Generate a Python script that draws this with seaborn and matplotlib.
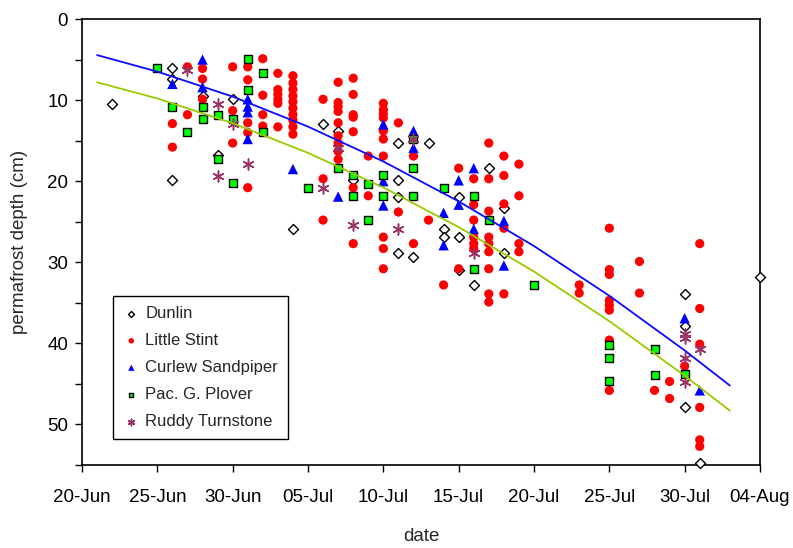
import matplotlib
matplotlib.use("Agg")
import matplotlib.pyplot as plt
import pandas as pd
import seaborn as sns
from matplotlib.ticker import MultipleLocator

YEAR = 2005

# --- observations: date of measurement and permafrost depth (cm) per species ---
dunlin_dates = ["22-Jun", "26-Jun", "26-Jun", "26-Jun", "28-Jun", "29-Jun", "30-Jun",
                "04-Jul", "06-Jul", "07-Jul", "08-Jul", "11-Jul", "11-Jul", "11-Jul",
                "11-Jul", "12-Jul", "13-Jul", "14-Jul", "14-Jul", "15-Jul", "15-Jul",
                "15-Jul", "16-Jul", "17-Jul", "18-Jul", "18-Jul", "30-Jul", "30-Jul",
                "30-Jul", "31-Jul", "04-Aug"]
dunlin_depth = [10.5, 6.0, 7.4, 19.9, 9.5, 16.8, 9.9,
                25.9, 12.9, 13.8, 19.8, 15.3, 19.9, 21.9,
                28.8, 29.4, 15.3, 25.9, 26.9, 21.9, 26.9,
                31.0, 32.8, 18.4, 23.3, 28.8, 33.9, 37.9,
                47.9, 54.8, 31.8]

stint_dates = (["26-Jun"] * 2 + ["27-Jun"] * 2 + ["28-Jun"] * 3 + ["30-Jun"] * 3 +
               ["01-Jul"] * 5 + ["02-Jul"] * 4 + ["03-Jul"] * 6 + ["04-Jul"] * 10 +
               ["06-Jul"] * 3 + ["07-Jul"] * 9 + ["08-Jul"] * 7 + ["09-Jul"] * 2 +
               ["10-Jul"] * 10 + ["11-Jul"] * 2 + ["12-Jul"] * 2 + ["13-Jul"] +
               ["14-Jul"] + ["15-Jul"] * 2 + ["16-Jul"] * 6 + ["17-Jul"] * 9 +
               ["18-Jul"] * 5 + ["19-Jul"] * 4 + ["23-Jul"] * 2 + ["25-Jul"] * 8 +
               ["27-Jul"] * 2 + ["28-Jul"] + ["29-Jul"] * 2 + ["30-Jul"] +
               ["31-Jul"] * 6)
stint_depth = [12.9, 15.8,
               5.9, 11.8,
               6.1, 7.4, 9.9,
               5.9, 11.3, 15.3,
               5.9, 7.5, 12.8, 14.0, 20.8,
               4.9, 9.4, 11.8, 13.2,
               6.7, 8.7, 9.3, 9.9, 10.4, 13.3,
               7.0, 7.9, 8.7, 9.5, 10.2, 11.0, 11.8, 12.5, 13.3, 14.2,
               9.9, 19.7, 24.8,
               7.8, 10.3, 10.8, 11.4, 12.8, 14.4, 15.3, 16.3, 17.3,
               7.3, 9.3, 11.8, 12.1, 13.9, 20.8, 27.7,
               16.9, 21.8,
               10.4, 11.2, 11.7, 12.2, 13.8, 14.8, 16.9, 26.9, 28.3, 30.8,
               12.8, 23.8,
               16.9, 27.7,
               24.8,
               32.8,
               18.4, 30.8,
               19.7, 22.9, 24.8, 26.9, 27.7, 28.3,
               15.3, 19.7, 23.7, 26.9, 27.7, 28.7, 30.8, 33.9, 34.9,
               16.9, 19.3, 22.8, 25.8, 33.9,
               17.9, 21.8, 27.7, 28.7,
               32.8, 33.8,
               25.8, 30.9, 31.5, 34.7, 35.3, 35.9, 39.6, 45.8,
               29.9, 33.8,
               45.8,
               44.7, 46.8,
               42.8,
               27.7, 35.7, 40.1, 47.9, 51.9, 52.7]

curlew_dates = ["26-Jun", "28-Jun", "28-Jun", "01-Jul", "01-Jul", "01-Jul", "01-Jul",
                "04-Jul", "07-Jul", "10-Jul", "10-Jul", "10-Jul", "12-Jul", "12-Jul",
                "14-Jul", "14-Jul", "15-Jul", "15-Jul", "16-Jul", "16-Jul", "18-Jul",
                "18-Jul", "30-Jul", "31-Jul"]
curlew_depth = [8.0, 5.0, 8.4, 9.9, 10.8, 11.5, 14.8,
                18.5, 21.9, 13.0, 20.0, 23.0, 13.8, 15.9,
                23.9, 27.9, 19.9, 22.9, 18.4, 25.9, 24.9,
                30.4, 36.9, 45.8]

plover_dates = ["25-Jun", "26-Jun", "27-Jun", "28-Jun", "28-Jun", "29-Jun", "29-Jun",
                "30-Jun", "30-Jun", "01-Jul", "01-Jul", "02-Jul", "02-Jul", "05-Jul",
                "07-Jul", "08-Jul", "08-Jul", "09-Jul", "09-Jul", "10-Jul", "10-Jul",
                "12-Jul", "12-Jul", "12-Jul", "14-Jul", "16-Jul", "16-Jul", "17-Jul",
                "20-Jul", "25-Jul", "25-Jul", "25-Jul", "28-Jul", "28-Jul", "30-Jul"]
plover_depth = [6.0, 10.8, 13.9, 10.8, 12.3, 11.8, 17.3,
                12.3, 20.2, 4.9, 8.8, 6.7, 13.9, 20.8,
                18.4, 19.2, 21.8, 20.3, 24.8, 19.2, 21.8,
                14.8, 18.4, 21.8, 20.8, 21.8, 30.8, 24.8,
                32.8, 40.2, 41.8, 44.7, 40.7, 43.9, 43.8]

turnstone_dates = ["27-Jun", "29-Jun", "29-Jun", "30-Jun", "01-Jul", "06-Jul", "07-Jul",
                   "08-Jul", "11-Jul", "12-Jul", "16-Jul", "30-Jul", "30-Jul", "30-Jul",
                   "30-Jul", "31-Jul"]
turnstone_depth = [6.3, 10.5, 19.3, 13.0, 17.9, 20.9, 15.9,
                   25.4, 25.9, 14.8, 28.8, 38.8, 39.3, 41.8,
                   44.8, 40.7]

# --- fitted thaw curves ---
trend_dates = ["21-Jun", "25-Jun", "30-Jun", "05-Jul", "10-Jul",
               "15-Jul", "20-Jul", "25-Jul", "30-Jul", "02-Aug"]
trend_blue = [4.45, 6.49, 9.57, 13.27, 17.57, 22.49, 28.0, 34.13, 40.87, 45.2]
trend_green = [7.80, 9.80, 12.85, 16.51, 20.78, 25.66, 31.15, 37.26, 43.98, 48.30]

# --- axis labelling ---
x_tick_labels = ["20-Jun", "25-Jun", "30-Jun", "05-Jul", "10-Jul",
                 "15-Jul", "20-Jul", "25-Jul", "30-Jul", "04-Aug"]


def to_dates(days):
    return pd.to_datetime([f"{d}-{YEAR}" for d in days], format="%d-%b-%Y")


sns.set_style("ticks")
plt.rcParams["font.family"] = ["Liberation Sans", "DejaVu Sans"]

W, H = 793, 548
fig = plt.figure(figsize=(W / 100, H / 100), dpi=100)
ax = fig.add_axes([82 / W, 1 - 465 / H, 678 / W, 446 / H])

series = [
    ("Dunlin", dunlin_dates, dunlin_depth,
     dict(marker="D", s=26, color="white", edgecolor="black", linewidth=1.0)),
    ("Little Stint", stint_dates, stint_depth,
     dict(marker="o", s=44, color="#ff0000", edgecolor="none", linewidth=0)),
    ("Curlew Sandpiper", curlew_dates, curlew_depth,
     dict(marker="^", s=56, color="#0000ff", edgecolor="none", linewidth=0)),
    ("Pac. G. Plover", plover_dates, plover_depth,
     dict(marker="s", s=34, color="#00ff00", edgecolor="black", linewidth=1.0)),
    ("Ruddy Turnstone", turnstone_dates, turnstone_depth,
     dict(marker=(6, 2, 0), s=60, color="#993366", linewidth=1.1)),
]

for i, (name, dates, depth, style) in enumerate(series):
    sns.scatterplot(x=to_dates(dates), y=depth, ax=ax, label=name,
                    zorder=3 + i * 0.1, clip_on=False, **style)

sns.lineplot(x=to_dates(trend_dates), y=trend_blue, ax=ax, color="#0a0aff",
             linewidth=1.3, zorder=5, legend=False)
sns.lineplot(x=to_dates(trend_dates), y=trend_green, ax=ax, color="#99cc00",
             linewidth=1.3, zorder=5, legend=False)

ax.set_xlim(to_dates(["20-Jun"])[0], to_dates(["04-Aug"])[0])
ax.set_ylim(55, 0)
ax.set_xticks(to_dates(x_tick_labels))
ax.set_xticklabels(x_tick_labels)
ax.yaxis.set_major_locator(MultipleLocator(10))
ax.yaxis.set_minor_locator(MultipleLocator(5))

ax.tick_params(which="both", direction="out", length=5, width=1.0,
               color="black", labelsize=13.5, labelcolor="black")
ax.tick_params(axis="x", pad=12)
ax.tick_params(axis="y", pad=5)

for sp in ax.spines.values():
    sp.set_color("black")
    sp.set_linewidth(1.2)

ax.set_xlabel("date", fontsize=13.5, labelpad=16)
ax.set_ylabel("permafrost depth (cm)", fontsize=13.5, labelpad=14)
ax.grid(False)

leg = ax.legend(loc="lower left", bbox_to_anchor=(0.0457, 0.058), borderaxespad=0,
                frameon=True, fancybox=False, shadow=False, framealpha=1,
                edgecolor="black", fontsize=12, handlelength=1.0,
                handletextpad=0.35, labelspacing=0.72, borderpad=0.6,
                markerscale=0.6)
leg.get_frame().set_linewidth(1.0)

fig.savefig("out.png", dpi=100, facecolor="white")
